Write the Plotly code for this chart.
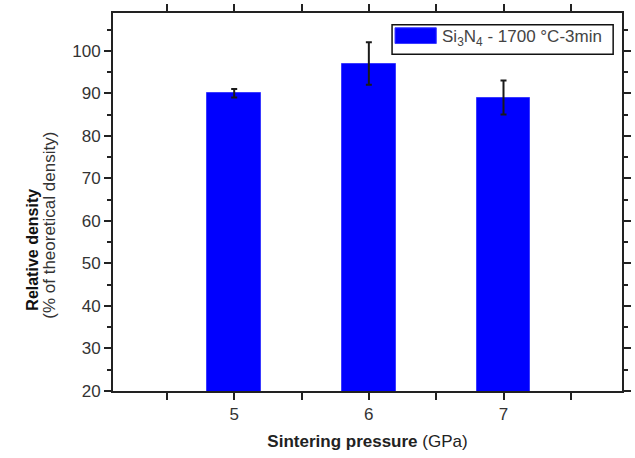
import plotly.graph_objects as go

pressures = [5, 6, 7]
density = [90, 97, 89]
density_err = [1, 5, 4]
series_name = "Si<sub>3</sub>N<sub>4</sub> - 1700 °C-3min"
y_tick_vals = [20, 30, 40, 50, 60, 70, 80, 90, 100]
x_tick_vals = [5, 6, 7]

FONT = "Liberation Sans, Arial, sans-serif"
TXT = "#333333"

fig = go.Figure()
fig.add_trace(go.Bar(
    x=pressures, y=density, width=0.4,
    marker=dict(color="#0000ff", line=dict(color="#3a3aff", width=1)),
    error_y=dict(type="data", array=density_err, color="#1a1a1a", thickness=2, width=3),
    name=series_name, showlegend=False,
))

fig.update_layout(
    width=635, height=458,
    margin=dict(l=113, r=4, t=7, b=67),
    paper_bgcolor="white", plot_bgcolor="white",
    font=dict(family=FONT, size=16, color=TXT),
    bargap=0,
)
fig.update_xaxes(
    range=[4.1, 7.88], tickvals=x_tick_vals, ticks="outside", ticklen=7, tickwidth=1.5,
    tickcolor="#222", showline=True, linecolor="#222", linewidth=2, mirror="ticks",
    showgrid=False, zeroline=False, tickfont=dict(size=17, color=TXT),
    minor=dict(tickvals=[4.5, 5.5, 6.5, 7.5], ticks="outside", ticklen=7, tickwidth=1.5, tickcolor="#222"),
    title=dict(text="<b>Sintering pressure</b> (GPa)", font=dict(size=17, color="#222"), standoff=12),
)
fig.update_yaxes(
    range=[20, 108.9], tickvals=y_tick_vals, ticks="outside", ticklen=7, tickwidth=1.5,
    tickcolor="#222", showline=True, linecolor="#222", linewidth=2, mirror="ticks",
    showgrid=False, zeroline=False, tickfont=dict(size=17, color=TXT),
    minor=dict(dtick=5, tick0=0, ticks="outside", ticklen=4, tickwidth=1.5, tickcolor="#222"),
)

def px_x(p):
    return (p - 113) / 518
def px_y(p):
    return 1 - (p - 7) / 384

# y-axis title (two lines)
fig.add_annotation(text="<b>Relative density</b>", xref="paper", yref="paper",
                   x=px_x(31), y=px_y(247), xanchor="center", yanchor="middle",
                   textangle=-90, showarrow=False,
                   font=dict(size=16, color="#111"))
fig.add_annotation(text="(% of theoretical density)", xref="paper", yref="paper",
                   x=px_x(49), y=px_y(223), xanchor="center", yanchor="middle",
                   textangle=-90, showarrow=False,
                   font=dict(size=17, color=TXT))

# legend box drawn manually (wide swatch like the original)
fig.add_shape(type="rect", xref="paper", yref="paper",
              x0=px_x(397), x1=px_x(622), y0=px_y(49), y1=px_y(19),
              line=dict(color="#111", width=1.5), fillcolor="white")
fig.add_shape(type="rect", xref="paper", yref="paper",
              x0=px_x(400), x1=px_x(442), y0=px_y(38), y1=px_y(22),
              line=dict(color="#3a3aff", width=1), fillcolor="#0000ff")
fig.add_annotation(text=series_name, xref="paper", yref="paper",
                   x=px_x(446), y=px_y(32), xanchor="left", yanchor="middle",
                   showarrow=False, font=dict(size=17, color="#444"))

fig.write_html("out.html")
